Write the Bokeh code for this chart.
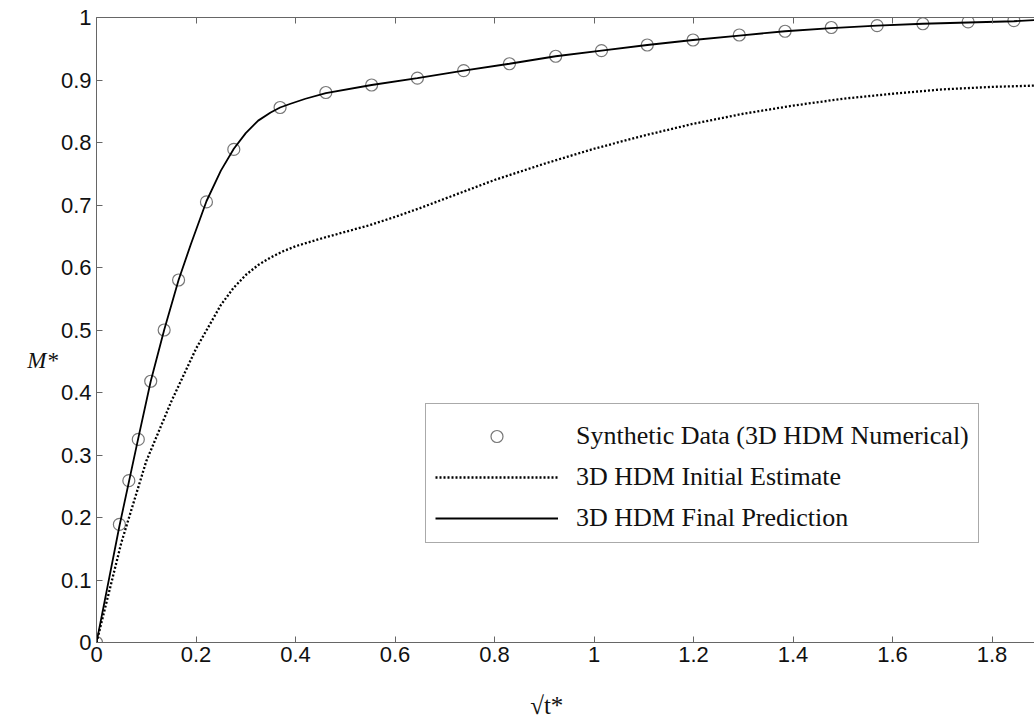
from bokeh.plotting import figure
from bokeh.models import Range1d, FixedTicker, LinearAxis, Legend, LegendItem
from bokeh.embed import file_html
from bokeh.resources import INLINE

# Synthetic data (circles)
syn_x = [0, 0.046, 0.065, 0.084, 0.109, 0.136, 0.165, 0.221, 0.276, 0.369, 0.461, 0.553, 0.645,
         0.738, 0.83, 0.923, 1.015, 1.107, 1.199, 1.292, 1.384, 1.477, 1.569, 1.661, 1.752, 1.844]
syn_y = [0, 0.189, 0.259, 0.325, 0.418, 0.5, 0.58, 0.705, 0.789, 0.856, 0.88, 0.892, 0.903,
         0.915, 0.926, 0.938, 0.947, 0.956, 0.964, 0.972, 0.978, 0.984, 0.987, 0.99, 0.993, 0.995]

# 3D HDM final prediction (solid)
final_x = [0, 0.046, 0.084, 0.109, 0.136, 0.165, 0.19, 0.221, 0.25, 0.276, 0.30, 0.325, 0.35,
           0.369, 0.39, 0.42, 0.461, 0.553, 0.645, 0.738, 0.83, 0.923, 1.015, 1.107, 1.199,
           1.292, 1.384, 1.477, 1.569, 1.661, 1.752, 1.844, 1.886]
final_y = [0, 0.186, 0.327, 0.418, 0.5, 0.58, 0.638, 0.706, 0.755, 0.79, 0.815, 0.835, 0.848,
           0.856, 0.862, 0.87, 0.879, 0.892, 0.903, 0.915, 0.926, 0.938, 0.947, 0.956, 0.964,
           0.971, 0.978, 0.983, 0.987, 0.99, 0.992, 0.994, 0.996]

# 3D HDM initial estimate (dotted)
init_x = [0, 0.05, 0.1, 0.15, 0.2, 0.25, 0.275, 0.3, 0.325, 0.35, 0.375, 0.4, 0.45, 0.5,
          0.55, 0.6, 0.65, 0.7, 0.75, 0.8, 0.9, 1.0, 1.1, 1.2, 1.3, 1.4, 1.5, 1.6, 1.7,
          1.8, 1.886]
init_y = [0, 0.16, 0.29, 0.385, 0.47, 0.54, 0.567, 0.588, 0.604, 0.616, 0.626, 0.634, 0.646,
          0.657, 0.668, 0.681, 0.695, 0.71, 0.725, 0.74, 0.766, 0.79, 0.811, 0.83, 0.846,
          0.859, 0.87, 0.878, 0.885, 0.889, 0.891]

x_ticks = [0, 0.2, 0.4, 0.6, 0.8, 1.0, 1.2, 1.4, 1.6, 1.8]
y_ticks = [0, 0.1, 0.2, 0.3, 0.4, 0.5, 0.6, 0.7, 0.8, 0.9, 1.0]
x_tick_labels = {0: "0", 0.2: "0.2", 0.4: "0.4", 0.6: "0.6", 0.8: "0.8", 1.0: "1",
                 1.2: "1.2", 1.4: "1.4", 1.6: "1.6", 1.8: "1.8"}
y_tick_labels = {0: "0", 0.1: "0.1", 0.2: "0.2", 0.3: "0.3", 0.4: "0.4", 0.5: "0.5",
                 0.6: "0.6", 0.7: "0.7", 0.8: "0.8", 0.9: "0.9", 1.0: "1"}

AX = "#666666"
NB = "\u00a0"

p = figure(width=1034, height=724, x_range=Range1d(0, 1.8854), y_range=Range1d(0, 1),
           output_backend="svg", toolbar_location=None,
           min_border_left=96, min_border_right=0, min_border_top=17, min_border_bottom=82,
           x_axis_label="√t*" + NB * 6, y_axis_label="\n\nM*")
p.outline_line_color = None
p.grid.visible = False
p.background_fill_color = "white"
p.border_fill_color = "white"

for ax in (p.xaxis[0], p.yaxis[0]):
    ax.axis_line_color = AX
    ax.major_tick_line_color = AX
    ax.minor_tick_line_color = None
    ax.major_tick_in = 6
    ax.major_tick_out = 0
    ax.major_label_text_font = "Liberation Sans"
    ax.major_label_text_font_size = "22px"
    ax.major_label_text_color = "#111111"
    ax.axis_label_text_font = "Liberation Serif"
    ax.axis_label_text_color = "#111111"

p.xaxis[0].ticker = FixedTicker(ticks=x_ticks)
p.xaxis[0].major_label_overrides = x_tick_labels
p.xaxis[0].major_label_standoff = 4
p.xaxis[0].axis_label_text_font_size = "25px"
p.xaxis[0].axis_label_text_font_style = "normal"
p.xaxis[0].axis_label_standoff = 27

p.yaxis[0].ticker = FixedTicker(ticks=y_ticks)
p.yaxis[0].major_label_overrides = y_tick_labels
p.yaxis[0].major_label_standoff = 5
p.yaxis[0].axis_label_orientation = "horizontal"
p.yaxis[0].axis_label_text_font_size = "23px"
p.yaxis[0].axis_label_text_font_style = "italic"
p.yaxis[0].axis_label_standoff = 0

top = LinearAxis(ticker=FixedTicker(ticks=x_ticks), axis_line_color=AX,
                 major_tick_line_color=AX, minor_tick_line_color=None,
                 major_tick_in=6, major_tick_out=0, major_label_text_font_size="0px",
                 major_label_text_color=None)
p.add_layout(top, "above")

r_syn = p.scatter(syn_x, syn_y, marker="circle", size=12, fill_color=None,
                  line_color="#777777", line_width=1.2)
r_init = p.line(init_x, init_y, line_color="black", line_width=2.3, line_dash="2 2")
r_final = p.line(final_x, final_y, line_color="black", line_width=1.8)

legend = Legend(items=[
    LegendItem(label="Synthetic Data (3D HDM Numerical)", renderers=[r_syn]),
    LegendItem(label="3D HDM Initial Estimate", renderers=[r_init]),
    LegendItem(label="3D HDM Final Prediction", renderers=[r_final]),
], location=(329, 99))
legend.title = " "
legend.title_text_font_size = "6px"
legend.title_standoff = 2
legend.margin = 0
legend.padding = 9
legend.spacing = 11
legend.glyph_width = 123
legend.glyph_height = 30
legend.label_height = 30
legend.label_standoff = 18
legend.label_text_font = "Liberation Serif"
legend.label_text_font_size = "26px"
legend.label_text_color = "#111111"
legend.border_line_color = "#555555"
legend.border_line_width = 1
legend.background_fill_alpha = 1
p.add_layout(legend, "center")

open("out.html", "w").write(file_html(p, INLINE))
